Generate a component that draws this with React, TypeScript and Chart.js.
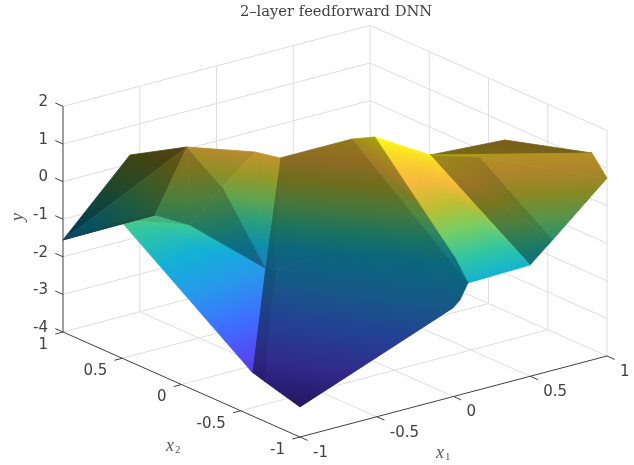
import React, { useEffect, useRef } from "react";
import { Chart, registerables } from "chart.js";

Chart.register(...registerables);

const titleText = "2–layer feedforward DNN";
const x1Ticks = [-1, -0.5, 0, 0.5, 1];
const x2Ticks = [-1, -0.5, 0, 0.5, 1];
const yTicks = [-4, -3, -2, -1, 0, 1, 2];

// Surface vertices
const x1Vertex = [-1, -0.62, -0.504, -0.29, -0.225, 0.049, -0.026, 0.12, 0.772, 0.955, 1, 0.461, 0.648, 0.498, 0.094, 0.042, -0.003, -1, -1, -1, -1, -0.81, -0.708, -0.417, -0.452, -0.435, -0.262, -0.09, 0.214, 0.243, -0.615];
const x2Vertex = [1, 0.927, 0.596, 0.3, 0.172, -0.08, -0.37, -0.647, -0.434, -0.931, -1, -0.626, -1, -1, -1, -1, -1, -1, -0.705, -0.595, 0.519, 0.469, 0.306, 0.051, 0.368, -0.066, -0.129, -0.327, -0.676, -0.698, -0.265];
const yVertex = [-1.55, 0.4, 0.95, 1.0, 0.95, 1.51, 2.05, 1.8, 1.2, 1.35, 0.73, 1.35, -0.52, -1.04, -1.08, -1.48, -1.64, -3.2, -2.94, -2.84, -0.35, -0.35, -0.5, -1.6, 0.15, -1.47, -1.25, -1.16, -1.0, -1.0, -1.93];

// Facets as vertex indices, with the three vertices that set each facet's plane
const facetVertices: number[][] = [
  [7, 8, 9], [7, 11, 12], [7, 12, 13], [11, 9, 10], [11, 10, 12], [7, 9, 11],
  [6, 7, 13], [6, 13, 14], [5, 6, 29], [5, 29, 28], [28, 29, 14],
  [4, 5, 28, 27, 26, 25],
  [25, 26, 27, 28, 14, 15, 16, 17, 18, 30],
  [4, 23, 25],
  [23, 25, 30, 18, 19],
  [20, 21, 22], [20, 22, 23], [20, 23, 19],
  [0, 1, 2], [0, 2, 21], [0, 21, 20],
  [2, 24, 22], [2, 22, 21], [2, 3, 24], [24, 3, 23], [3, 4, 23], [24, 23, 22],
];
const facetPlane: number[][] = [
  [7, 8, 9], [7, 11, 12], [7, 12, 13], [11, 9, 10], [11, 10, 12], [7, 9, 11],
  [6, 7, 13], [6, 13, 14], [5, 6, 29], [5, 29, 28], [28, 29, 14],
  [4, 26, 28],
  [26, 28, 17],
  [4, 23, 25],
  [25, 18, 19],
  [20, 21, 22], [20, 22, 23], [20, 23, 19],
  [0, 1, 2], [0, 2, 21], [0, 21, 20],
  [2, 24, 22], [2, 22, 21], [2, 3, 24], [24, 3, 23], [3, 4, 23], [24, 23, 22],
];
const facetLight = [0.48, 0.62, 0.62, 0.72, 0.72, 0.7, 1, 1, 0.66, 0.66, 0.62, 0.58, 0.58, 0.56, 0.53, 0.9, 1, 1, 0.35, 0.45, 0.42, 0.62, 0.62, 0.75, 0.8, 0.8, 0.62];

// Colormap
const colorLow = -3.2;
const colorHigh = 2.05;
const colorStops: number[][] = [
  [62, 38, 168], [85, 70, 240], [62, 111, 255], [39, 152, 235], [18, 177, 214],
  [50, 198, 160], [120, 205, 100], [190, 190, 50], [245, 185, 60], [250, 210, 45], [249, 251, 20],
];

const W = 634;
const H = 465;
const PAD_LEFT = 38;
const TITLE_SIZE = 14.7;
const TITLE_TOP = 3.4;
const TITLE_BOTTOM = 3.6;
const TITLE_H = TITLE_SIZE * 1.2 + TITLE_TOP + TITLE_BOTTOM;

function proj(x1: number, x2: number, y: number) {
  const u = x1 + 1;
  const v = x2 + 1;
  return {
    x: 300 + 153.5 * u - 118.5 * v,
    y: 437 - 40.5 * u - 52.5 * v - 37.6 * (y + 4),
  };
}

function vertexPoint(i: number) {
  return proj(x1Vertex[i], x2Vertex[i], yVertex[i]);
}

function colorAt(z: number, light: number) {
  const t = Math.max(0, Math.min(1, (z - colorLow) / (colorHigh - colorLow))) * (colorStops.length - 1);
  const i = Math.min(colorStops.length - 2, Math.floor(t));
  const f = t - i;
  const c = colorStops[i].map((a, k) => Math.round((a + (colorStops[i + 1][k] - a) * f) * light));
  return `rgb(${c[0]},${c[1]},${c[2]})`;
}

function facetGradient(chart: any, verts: number[], plane: number[], light: number) {
  // the x and y scales are laid out so a projected value equals its pixel
  const [a, b, c] = plane.map((i) => ({ ...vertexPoint(i), z: yVertex[i] }));
  const d = (b.x - a.x) * (c.y - a.y) - (c.x - a.x) * (b.y - a.y);
  if (Math.abs(d) < 1e-6) return colorAt(a.z, light);
  const gx = ((b.z - a.z) * (c.y - a.y) - (c.z - a.z) * (b.y - a.y)) / d;
  const gy = ((c.z - a.z) * (b.x - a.x) - (b.z - a.z) * (c.x - a.x)) / d;
  const g2 = gx * gx + gy * gy;
  if (g2 < 1e-12) return colorAt(a.z, light);
  const zs = verts.map((i) => {
    const p = vertexPoint(i);
    return a.z + gx * (p.x - a.x) + gy * (p.y - a.y);
  });
  const zMin = Math.min(...zs);
  const zMax = Math.max(...zs);
  const x0 = a.x + (gx * (zMin - a.z)) / g2;
  const y0 = a.y + (gy * (zMin - a.z)) / g2;
  const x1 = a.x + (gx * (zMax - a.z)) / g2;
  const y1 = a.y + (gy * (zMax - a.z)) / g2;
  const grad = chart.ctx.createLinearGradient(x0, y0, x1, y1);
  grad.addColorStop(0, colorAt(zMin, light));
  const n = colorStops.length - 1;
  for (let k = 0; k <= n; k++) {
    const z = colorLow + ((colorHigh - colorLow) * k) / n;
    if (z > zMin && z < zMax) grad.addColorStop((z - zMin) / (zMax - zMin), colorAt(z, light));
  }
  grad.addColorStop(1, colorAt(zMax, light));
  return grad;
}

function lineSet(points: number[][], color: string, width: number) {
  return {
    type: "scatter",
    data: points.map((p) => proj(p[0], p[1], p[2])),
    showLine: true,
    fill: false,
    borderColor: color,
    borderWidth: width,
    pointRadius: 0,
    tension: 0,
    clip: false,
  };
}

const GRID = "#dedede";
const AXIS = "#404040";

function buildDatasets() {
  const sets: any[] = [];
  // back walls and floor
  yTicks.forEach((y) => sets.push(lineSet([[-1, 1, y], [1, 1, y], [1, -1, y]], GRID, 1)));
  x1Ticks.slice(1).forEach((a) => sets.push(lineSet([[a, 1, -4], [a, 1, 2]], GRID, 1)));
  x2Ticks.slice(0, -1).forEach((b) => sets.push(lineSet([[1, b, -4], [1, b, 2]], GRID, 1)));
  x1Ticks.slice(1, -1).forEach((a) => sets.push(lineSet([[a, -1, -4], [a, 1, -4]], GRID, 1)));
  x2Ticks.slice(1, -1).forEach((b) => sets.push(lineSet([[-1, b, -4], [1, b, -4]], GRID, 1)));
  // surface
  facetVertices.forEach((verts, t) => {
    const plane = facetPlane[t];
    const light = facetLight[t];
    const paint = (ctx: any) => facetGradient(ctx.chart, verts, plane, light);
    sets.push({
      type: "scatter",
      data: [...verts, verts[0]].map(vertexPoint),
      showLine: true,
      fill: "shape",
      backgroundColor: paint,
      borderColor: paint,
      borderWidth: 0.8,
      pointRadius: 0,
      tension: 0,
      clip: false,
    });
  });
  // axes and ticks
  sets.push(lineSet([[-1, 1, -4], [-1, 1, 2]], AXIS, 1));
  sets.push(lineSet([[-1, -1, -4], [1, -1, -4]], AXIS, 1));
  sets.push(lineSet([[-1, -1, -4], [-1, 1, -4]], AXIS, 1));
  yTicks.forEach((y) => sets.push(lineSet([[-1, 1, y], [-1, 1.065, y]], AXIS, 1)));
  x1Ticks.forEach((a) => sets.push(lineSet([[a, -1, -4], [a, -1.065, -4]], AXIS, 1)));
  x2Ticks.forEach((b) => sets.push(lineSet([[-1, b, -4], [-1.05, b, -4]], AXIS, 1)));
  sets.forEach((s, i) => (s.order = -i));
  return sets;
}

const textPlugin = {
  id: "axisText",
  afterDraw(chart: any) {
    const { ctx, scales } = chart;
    const at = (p: { x: number; y: number }) => ({ x: scales.x.getPixelForValue(p.x), y: scales.y.getPixelForValue(p.y) });
    ctx.save();
    ctx.fillStyle = AXIS;
    ctx.textBaseline = "middle";
    ctx.font = '15px "DejaVu Sans"';
    ctx.textAlign = "right";
    yTicks.forEach((y) => {
      const p = at(proj(-1, 1, y));
      ctx.fillText(String(y), p.x - 15, p.y - 4);
    });
    x2Ticks.forEach((b) => {
      const p = at(proj(-1, b, -4));
      ctx.fillText(String(b), p.x - 15, p.y + 13);
    });
    ctx.textAlign = "left";
    x1Ticks.forEach((a) => {
      const p = at(proj(a, -1, -4));
      ctx.fillText(String(a), p.x + 13, p.y + 16);
    });
    const sub = (cx: number, cy: number, base: string, s: string) => {
      ctx.textAlign = "left";
      ctx.font = 'italic 18px "Liberation Serif"';
      ctx.fillText(base, cx - 7, cy - 2);
      ctx.font = '11px "Liberation Serif"';
      ctx.fillText(s, cx + 2, cy + 2);
    };
    ctx.fillStyle = "#555555";
    sub(173, 448, "x", "2");
    sub(443, 455, "x", "1");
    ctx.translate(18, 217);
    ctx.rotate(-Math.PI / 2);
    ctx.textAlign = "center";
    ctx.font = 'italic 18px "Liberation Serif"';
    ctx.fillText("y", 0, 0);
    ctx.restore();
  },
};

export default function App() {
  const ref = useRef<HTMLCanvasElement | null>(null);
  useEffect(() => {
    document.body.style.margin = "0";
    const chart = new Chart(ref.current as HTMLCanvasElement, {
      type: "scatter",
      data: { datasets: buildDatasets() },
      options: {
        animation: false,
        responsive: false,
        layout: { padding: { left: PAD_LEFT, top: 0, right: 0, bottom: 0 } },
        plugins: {
          legend: { display: false },
          tooltip: { enabled: false },
          title: {
            display: true,
            text: titleText,
            color: "#404040",
            font: { family: '"DejaVu Serif"', size: TITLE_SIZE, weight: "normal" },
            padding: { top: TITLE_TOP, bottom: TITLE_BOTTOM },
          },
        },
        scales: {
          x: { type: "linear", display: false, min: PAD_LEFT, max: W },
          y: { type: "linear", display: false, min: TITLE_H, max: H, reverse: true },
        },
      },
      plugins: [textPlugin],
    } as any);
    return () => chart.destroy();
  }, []);
  return (
    <div style={{ width: W, height: H }}>
      <canvas ref={ref} width={W} height={H} style={{ display: "block" }} />
    </div>
  );
}
